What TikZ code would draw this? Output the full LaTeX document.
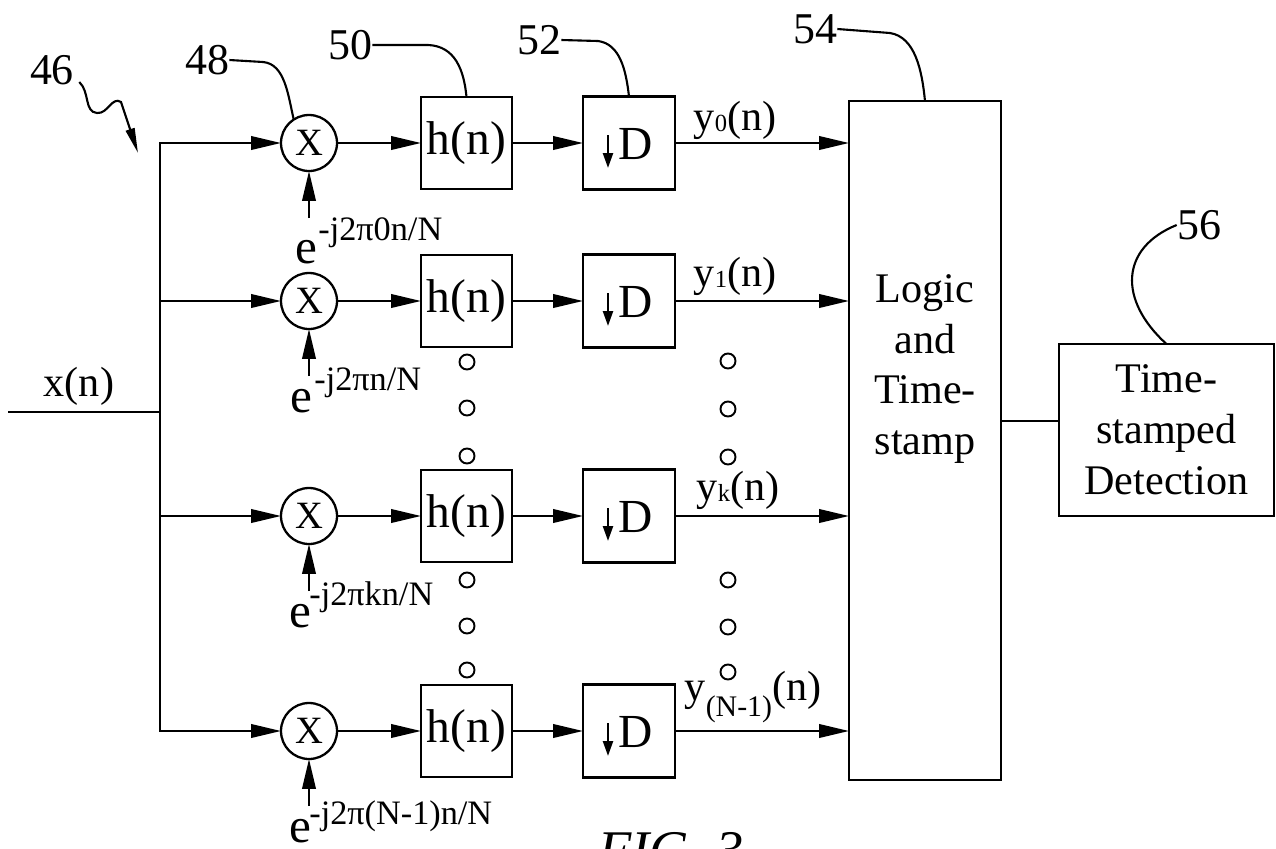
\documentclass[tikz,border=0pt]{standalone}
\usepackage{fontspec}
\setmainfont{Liberation Serif}
\usetikzlibrary{arrows.meta,calc}
\begin{document}
\begin{tikzpicture}[x=0.02cm,y=-0.02cm,
  ln/.style={line width=1.3pt},
  arr/.style={line width=1.3pt,-{Triangle[length=0.6cm,width=0.27cm]}},
  mult/.style={draw,circle,line width=1.3pt,minimum size=1.12cm,inner sep=0pt,outer sep=0pt,font=\fontsize{22}{22}\selectfont},
  hbox/.style={draw,rectangle,line width=1.3pt,minimum width=1.82cm,minimum height=1.84cm,inner sep=0pt,outer sep=0pt,font=\fontsize{27}{27}\selectfont},
  dbox/.style={draw,rectangle,line width=1.3pt,minimum width=1.84cm,minimum height=1.86cm,inner sep=0pt,outer sep=0pt},
  dlet/.style={font=\fontsize{27}{27}\selectfont,inner sep=0pt},
  darr/.style={line width=1.3pt,-{Triangle[length=0.3cm,width=0.2cm]}},
  ylab/.style={font=\fontsize{24}{24}\selectfont,inner sep=0pt},
  elab/.style={font=\fontsize{28}{28}\selectfont,inner sep=0pt,anchor=base west},
  slab/.style={font=\fontsize{19.5}{19.5}\selectfont,inner sep=0pt,anchor=base west},
  refnum/.style={font=\fontsize{25}{25}\selectfont,inner sep=0pt},
  lead/.style={line width=1.2pt},
  dotc/.style={draw,circle,line width=1.1pt,minimum size=0.3cm,inner sep=0pt},
  bigtext/.style={font=\fontsize{24}{29}\selectfont,align=center,inner sep=0pt}
]
\useasboundingbox (0,0) rectangle (1276,849);
\clip (0,0) rectangle (1276,849);

% big blocks
\node[draw,line width=1.3pt,minimum width=3.04cm,minimum height=13.58cm,inner sep=0pt,outer sep=0pt] (L) at (925,440.5) {};
\node[bigtext] (Lt) at (925,369) {Logic\\and\\Time-\\stamp};
\node[draw,line width=1.3pt,minimum width=4.3cm,minimum height=3.44cm,outer sep=0pt,bigtext] (T) at (1166.5,430) {Time-\\stamped\\Detection};
\path ($(T.west)+(0,-9)$) coordinate (tw);
\draw[ln] (tw -| L.east) -- (tw);

% rows
\foreach \r/\y in {0/143,1/301,k/516,N/731} {
  \node[mult] (m\r) at (309,\y) {X};
  \node[hbox] (h\r) at (466.5,\y) {h(n)};
  \node[dbox] (d\r) at (629,\y) {};
  \node[dlet] (dl\r) at ($(d\r.center)+(7,1)$) {D};
  \draw[darr] ($(d\r.center)+(-21,-8)$) -- ($(d\r.center)+(-21,25)$);
  \coordinate (b\r) at (160,\y);
  \coordinate (u\r) at (309,{\y+75});
  \draw[arr] (b\r) -- (m\r.west);
  \draw[arr] (m\r.east) -- (h\r.west);
  \draw[arr] (h\r.east) -- (d\r.west);
  \draw[arr] (d\r.east) -- (d\r.east -| L.west);
  \draw[arr] (u\r) -- (m\r.south);
}

% input and bus
\coordinate (xin) at (8,412);
\coordinate (bx) at (160,412);
\draw[ln] (xin) -- (bx);
\draw[ln,line cap=rect] (b0) -- (bN);
\node[ylab] (xl) at (79,386) {x(n)};

% outputs labels
\node[ylab] (y0) at (735,120) {y\raisebox{-1pt}{\fontsize{14}{14}\selectfont 0}(n)};
\node[ylab] (y1) at (735,276) {y\raisebox{-1pt}{\fontsize{14}{14}\selectfont 1}(n)};
\node[ylab] (yk) at (738,490) {y\raisebox{-1pt}{\fontsize{14}{14}\selectfont k}(n)};
\node[ylab] (yN) at (753,697) {y\raisebox{-9pt}{\fontsize{17}{17}\selectfont (N-1)}(n)};

% exponent labels
\node[elab] (e0) at (295,263) {e};
\node[slab] (s0) at (318,240) {-j2π0n/N};
\node[elab] (e1) at (290,412) {e};
\node[slab] (s1) at (314,390) {-j2πn/N};
\node[elab] (ek) at (289,627) {e};
\node[slab] (sk) at (309,605) {-j2πkn/N};
\node[elab] (eN) at (289,842) {e};
\node[slab] (sN) at (309,824) {-j2π(N-1)n/N};

% ellipsis dots
\foreach \yy [count=\i] in {362,408,456,580,626,670}
  \node[dotc] (dh\i) at (467,\yy) {};
\foreach \yy [count=\i] in {361,409,457,580,627,672}
  \node[dotc] (dd\i) at (728,\yy) {};

% reference numerals
\node[refnum] (n46) at (52,70) {46};
\node[refnum] (n48) at (207,60) {48};
\node[refnum] (n50) at (350,45) {50};
\node[refnum] (n52) at (539,40) {52};
\node[refnum] (n54) at (815,29) {54};
\node[refnum] (n56) at (1199,225) {56};

\draw[lead] (n48.east) -- (263,62) .. controls (285,64) and (288,95) .. (m0.123);
\draw[lead] (n50.east) -- (428,45) .. controls (455,46) and (464,70) .. (h0.north);
\draw[lead] (n52.east) -- (598,41) .. controls (620,44) and (626,70) .. (d0.north);
\draw[lead] (n54.east) -- (890,33) .. controls (915,37) and (922,70) .. (L.north);
\draw[lead] (n56.west) .. controls (1120,248) and (1118,300) .. (T.north);
\draw[lead,-{Triangle[length=0.5cm,width=0.18cm]}] ($(n46.east)+(5,12)$) .. controls (90,92) and (84,112) .. (97,113) .. controls (108,114) and (112,96) .. (121,102) -- (138,153);

% caption (cut off at the bottom edge, as in the figure)
\node[font=\fontsize{31}{31}\selectfont\itshape,anchor=base west,inner sep=0pt] (fig) at (598,868) {FIG. 3};
\end{tikzpicture}
\end{document}
